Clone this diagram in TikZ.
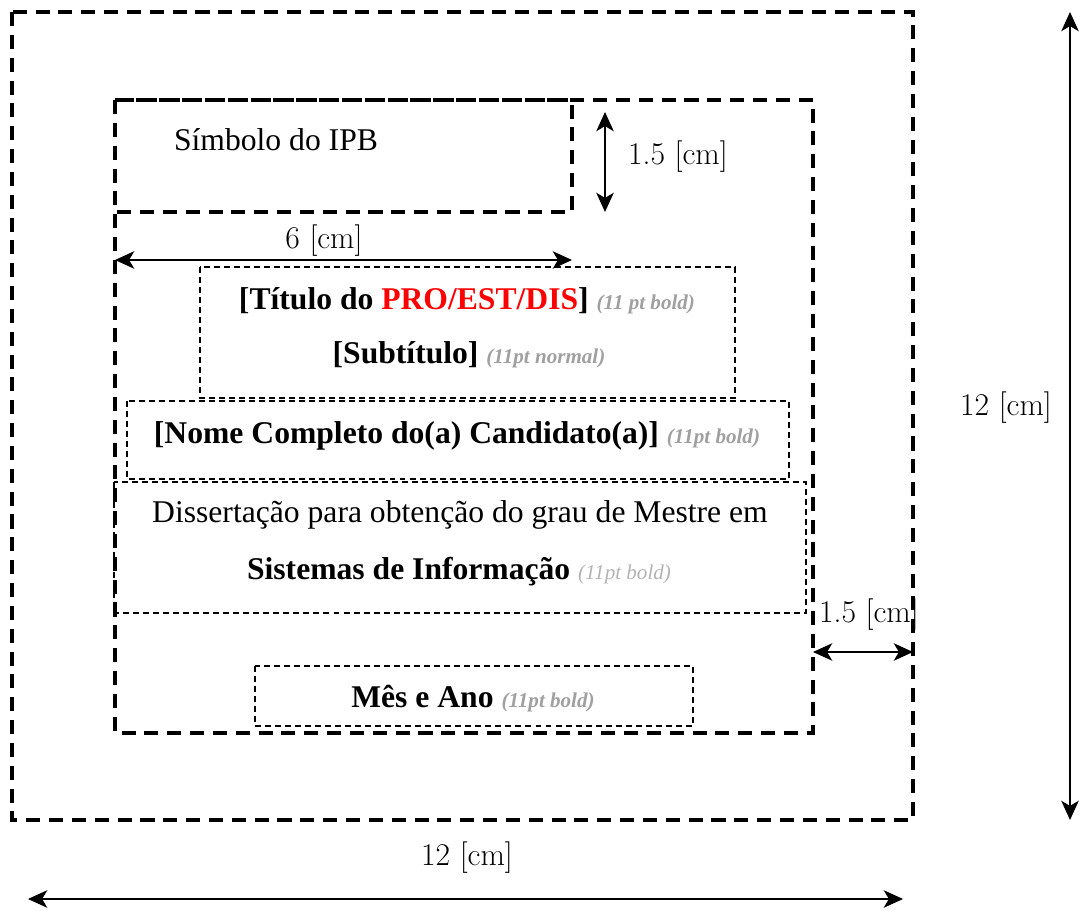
\documentclass[tikz,border=0pt]{standalone}
\usepackage{fontspec}
\setmainfont{Liberation Serif}
\newfontfamily\dimfont{Latin Modern Roman}
\usetikzlibrary{arrows.meta}
\definecolor{notegray}{HTML}{A0A0A0}
\tikzset{
  pagebox/.style={line width=2.2pt,dash pattern=on 8pt off 5pt},
  fieldbox/.style={line width=0.9pt,dash pattern=on 3.4pt off 2.3pt},
  dimline/.style={line width=0.6pt,{Stealth[length=11pt,width=10pt,inset=3pt]}-{Stealth[length=11pt,width=10pt,inset=3pt]}},
  dimlabel/.style={font=\dimfont\fontsize{18}{20}\selectfont,inner sep=0pt},
  fieldtext/.style={font=\fontsize{18}{20}\selectfont,inner sep=0pt,anchor=mid},
}
\newcommand{\note}[1]{{\fontsize{12}{14}\selectfont\color{notegray}\textbf{\textit{#1}}}}
\begin{document}
\begin{tikzpicture}[x=0.02cm,y=-0.02cm]
        \useasboundingbox (0,0) rectangle (1082,911);
        %% Page, margins and logo area
        \draw[pagebox] (12,12) rectangle (913,820);
        \draw[pagebox] (115,100) rectangle (813,733);
        \draw[pagebox] (115,100) rectangle (572,212);
        \node[fieldtext] (symbol) at (276,146) {Símbolo do IPB};
        %% Text fields
        \draw[fieldbox] (200,267) rectangle (735,398);
        \node[fieldtext] (title) at (467,305) {\textbf{[Título do \textcolor{red}{PRO/EST/DIS}]} \note{(11 pt bold)}};
        \node[fieldtext] (subtitle) at (469,359) {\textbf{[Subtítulo]} \note{(11pt normal)}};
        \draw[fieldbox] (127,401) rectangle (789,479);
        \node[fieldtext] (name) at (457,439) {\textbf{[Nome Completo do(a) Candidato(a)]} \note{(11pt bold)}};
        \draw[fieldbox] (114,482) rectangle (806,613);
        \node[fieldtext] (degree) at (460,518) {Dissertação para obtenção do grau de Mestre em};
        \node[fieldtext] (course) at (459,575) {\textbf{Sistemas de Informação} {\fontsize{12}{14}\selectfont\color{notegray!80}\textit{(11pt bold)}}};
        \draw[fieldbox] (255,666) rectangle (693,726);
        \node[fieldtext] (date) at (473,703) {\textbf{Mês e Ano} \note{(11pt bold)}};
        %% Dimensions
        \coordinate (logoT) at (605,112);
        \coordinate (logoB) at (605,212);
        \draw[dimline] (logoT) -- (logoB);
        \node[dimlabel] (logoH) at (678,157) {1.5 [cm]};
        \coordinate (logoL) at (115,260);
        \coordinate (logoR) at (572,260);
        \draw[dimline] (logoL) -- (logoR);
        \node[dimlabel] (logoW) at (324,241) {6 [cm]};
        \coordinate (marginL) at (813,652);
        \coordinate (marginR) at (913,652);
        \draw[dimline] (marginL) -- (marginR);
        \node[dimlabel] (marginW) at (869,615) {1.5 [cm]};
        \coordinate (pageT) at (1070,12);
        \coordinate (pageB) at (1070,820);
        \draw[dimline] (pageT) -- (pageB);
        \node[dimlabel] (pageH) at (1006,408) {12 [cm]};
        \coordinate (pageL) at (28,899);
        \coordinate (pageR) at (903,899);
        \draw[dimline] (pageL) -- (pageR);
        \node[dimlabel] (pageW) at (467,858) {12 [cm]};
    \end{tikzpicture}
\end{document}
